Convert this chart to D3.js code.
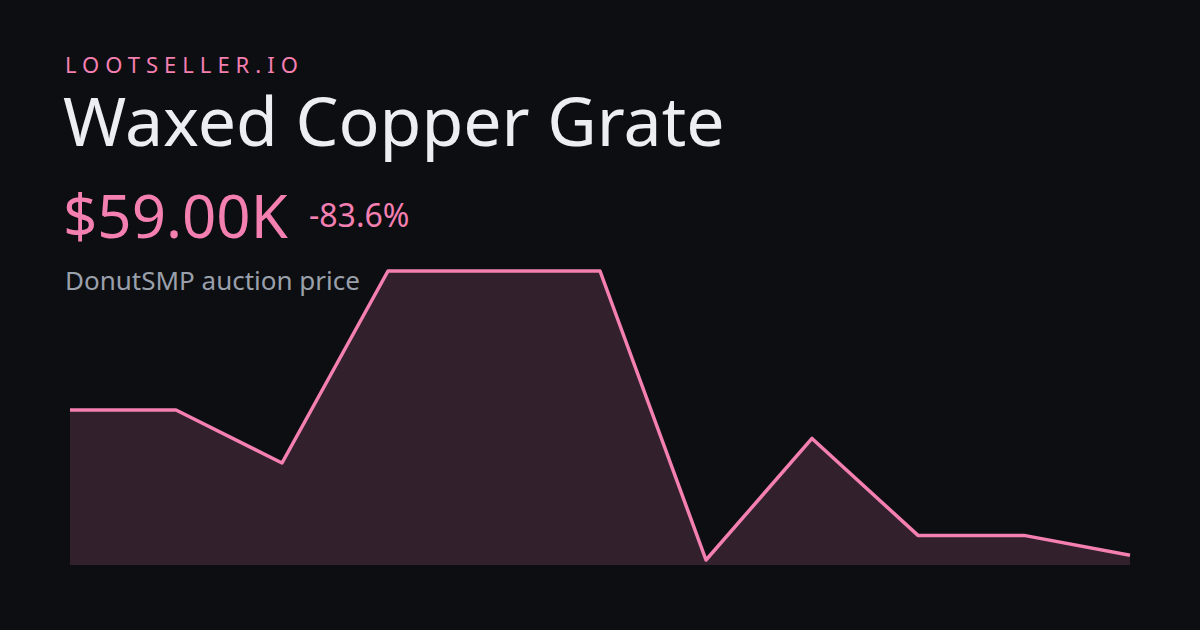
<!DOCTYPE html>
<html><head><meta charset="utf-8">
<script src="https://cdn.jsdelivr.net/npm/d3@7"></script>
<style>body{margin:0;background:#0d0e11}svg{display:block}</style>
</head><body>
<svg id="c" width="1200" height="630"></svg>
<script>
const brand = "LOOTSELLER.IO"
const itemName = "Waxed Copper Grate"
const priceLabel = "$59.00K"
const changeLabel = "-83.6%"
const subtitle = "DonutSMP auction price"
// price in thousands, oldest to newest
const prices = [360, 360, 250, 648, 648, 648, 49, 301, 100, 100, 59]

const svg = d3.select("#c")
const pink = "#f47fb1"
svg.append("rect").attr("width", 1200).attr("height", 630).attr("fill", "#0d0e11")

const x = d3.scaleLinear().domain([0, prices.length - 1]).range([70, 1130])
const y = d3.scaleLinear().domain([d3.min(prices), d3.max(prices)]).range([560, 271])

const area = d3.area().x((d, i) => x(i)).y0(565).y1(d => y(d))
const line = d3.line().x((d, i) => x(i)).y(d => y(d))

svg.append("path").datum(prices).attr("d", area).attr("fill", "#32202c")
svg.append("path").datum(prices).attr("d", line)
  .attr("fill", "none").attr("stroke", pink).attr("stroke-width", 3.5).attr("stroke-linejoin", "round")

const font = "'Noto Sans', sans-serif"
svg.append("text").attr("x", 65).attr("y", 73).text(brand)
  .attr("font-family", font).attr("font-size", 22).attr("letter-spacing", 6).attr("fill", pink)
svg.append("text").attr("x", 63).attr("y", 146).text(itemName)
  .attr("font-family", font).attr("font-size", 68).attr("fill", "#eceef2")
svg.append("text").attr("x", 63).attr("y", 238).text(priceLabel)
  .attr("font-family", font).attr("font-size", 60).attr("fill", pink)
svg.append("text").attr("x", 309).attr("y", 227).text(changeLabel)
  .attr("font-family", font).attr("font-size", 32).attr("fill", pink)
svg.append("text").attr("x", 65).attr("y", 290).text(subtitle)
  .attr("font-family", font).attr("font-size", 26).attr("fill", "#9aa0ab")
</script>
</body></html>
